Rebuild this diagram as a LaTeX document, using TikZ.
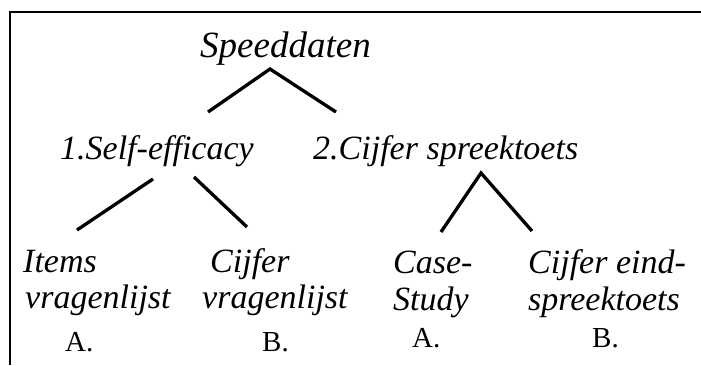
\documentclass[tikz,border=0pt]{standalone}
\usepackage{fontspec}
\setmainfont{Liberation Serif}[ItalicFont={Liberation Serif Italic}]
\begin{document}
\begin{tikzpicture}[x=1pt,y=-1pt,
  lbl/.style={inner sep=0pt,anchor=base west,font=\fontsize{34}{40}\selectfont\itshape},
  toplbl/.style={inner sep=0pt,anchor=base west,font=\fontsize{37}{42}\selectfont\itshape},
  uplbl/.style={inner sep=0pt,anchor=base west,font=\fontsize{29}{34}\selectfont},
  branch/.style={line width=3.3pt,line join=miter},
  frame/.style={line width=2.8pt}]
\useasboundingbox (0,0) rectangle (701,365);
% frame (top and left edges visible)
\coordinate (fr) at (701,12);
\coordinate (fc) at (10,12);
\coordinate (fb) at (10,365);
\draw[frame] (fr) -- (fc) -- (fb);
% texts
\node[toplbl] (root) at (200,57) {Speeddaten};
\node[lbl] (se) at (60,159) {1.Self-efficacy};
\node[lbl] (cs) at (313,159) {2.Cijfer spreektoets};
\node[lbl] (a1) at (23,272) {Items};
\node[lbl] (a2) at (25,308) {vragenlijst};
\node[uplbl] (a3) at (65,351) {A.};
\node[lbl] (b1) at (210,272) {Cijfer};
\node[lbl] (b2) at (202,308) {vragenlijst};
\node[uplbl] (b3) at (262,351) {B.};
\node[lbl] (c1) at (393,273) {Case-};
\node[lbl] (c2) at (393,310) {Study};
\node[uplbl] (c3) at (412,347) {A.};
\node[lbl] (d1) at (528,273) {Cijfer eind-};
\node[lbl] (d2) at (528,310) {spreektoets};
\node[uplbl] (d3) at (592,347) {B.};
% branch end points
\coordinate (rootL) at (208,112);
\coordinate (rootA) at (270,69);
\coordinate (rootR) at (336,112);
\coordinate (seL1) at (153,179);
\coordinate (seL2) at (77,230);
\coordinate (seR1) at (194,177);
\coordinate (seR2) at (247,227);
\coordinate (csL) at (441,232);
\coordinate (csA) at (481,173);
\coordinate (csR) at (532,231);
\draw[branch] (rootL) -- (rootA) -- (rootR);
\draw[branch] (seL1) -- (seL2);
\draw[branch] (seR1) -- (seR2);
\draw[branch] (csL) -- (csA) -- (csR);
\end{tikzpicture}
\end{document}
